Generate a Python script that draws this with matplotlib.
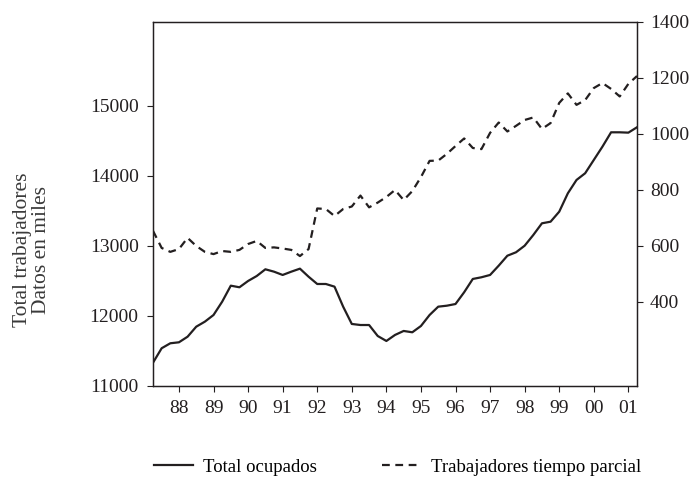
import matplotlib
matplotlib.use("Agg")
import matplotlib.pyplot as plt
import numpy as np

# trimestres 1987 T2 - 2001 T2
start_year = 1987.25
total_ocupados = [
    11333, 11539, 11610, 11624, 11704, 11847, 11919, 12014, 12204, 12433,
    12410, 12500, 12571, 12667, 12633, 12586, 12633, 12676, 12561, 12457,
    12457, 12419, 12133, 11886, 11871, 11871, 11714, 11643, 11729, 11786,
    11767, 11857, 12014, 12133, 12147, 12171, 12339, 12529, 12553, 12586,
    12719, 12861, 12910, 13004, 13157, 13324, 13347, 13490, 13753, 13943,
    14039, 14229, 14419, 14624, 14624, 14619, 14696,
]
tiempo_parcial = [
    654, 593, 579, 589, 629, 600, 579, 571, 582, 579,
    586, 607, 618, 593, 595, 591, 586, 564, 589, 734,
    732, 707, 732, 741, 780, 738, 755, 775, 800, 764,
    796, 846, 904, 905, 929, 957, 984, 950, 946, 1004,
    1041, 1009, 1029, 1050, 1059, 1018, 1039, 1111, 1145, 1104,
    1121, 1164, 1182, 1161, 1134, 1179, 1207,
]
year_ticks = list(range(1988, 2002))
year_labels = ["88", "89", "90", "91", "92", "93", "94", "95", "96", "97", "98", "99", "00", "01"]
left_ticks = [11000, 12000, 13000, 14000, 15000]
right_ticks = [400, 600, 800, 1000, 1200, 1400]

plt.rcParams["font.family"] = ["Liberation Serif", "DejaVu Serif"]
plt.rcParams["font.size"] = 13

x = start_year + 0.25 * np.arange(len(total_ocupados))

fig = plt.figure(figsize=(6.93, 4.79), dpi=100)
ax = fig.add_axes([0.2208, 0.1942, 0.6984, 0.7599])
ax2 = ax.twinx()

l1, = ax.plot(x, total_ocupados, color="#231f20", linewidth=1.6, label="Total ocupados")
l2, = ax2.plot(x, tiempo_parcial, color="#231f20", linewidth=1.6, linestyle=(0, (3.5, 2.5)),
               label="Trabajadores tiempo parcial")

ax.set_xlim(x[0], x[-1])
ax.set_ylim(11000, 16200)
ax2.set_ylim(100, 1400)
ax.set_xticks(year_ticks)
ax.set_xticklabels(year_labels)
ax.set_yticks(left_ticks)
ax2.set_yticks(right_ticks)

for a in (ax, ax2):
    a.tick_params(direction="out", length=4.3, width=0.8, colors="#231f20", labelsize=14)
    for s in a.spines.values():
        s.set_linewidth(0.9)
        s.set_color("#231f20")
ax.tick_params(axis="x", pad=6)
ax.tick_params(axis="y", pad=6)
ax2.tick_params(axis="y", pad=5)

fig.text(0.046, 0.478, "Total trabajadores\nDatos en miles", rotation=90, ha="center", va="center",
         fontsize=15.5, color="#3a3a3a", linespacing=0.95)

fig.legend([l1, l2], ["Total ocupados", "Trabajadores tiempo parcial"], loc="center left",
           bbox_to_anchor=(0.222, 0.025), ncol=2, frameon=False, borderpad=0, borderaxespad=0,
           handlelength=2.1, handletextpad=0.5, columnspacing=3.5, fontsize=13.5)

fig.savefig("out.png", dpi=100)
